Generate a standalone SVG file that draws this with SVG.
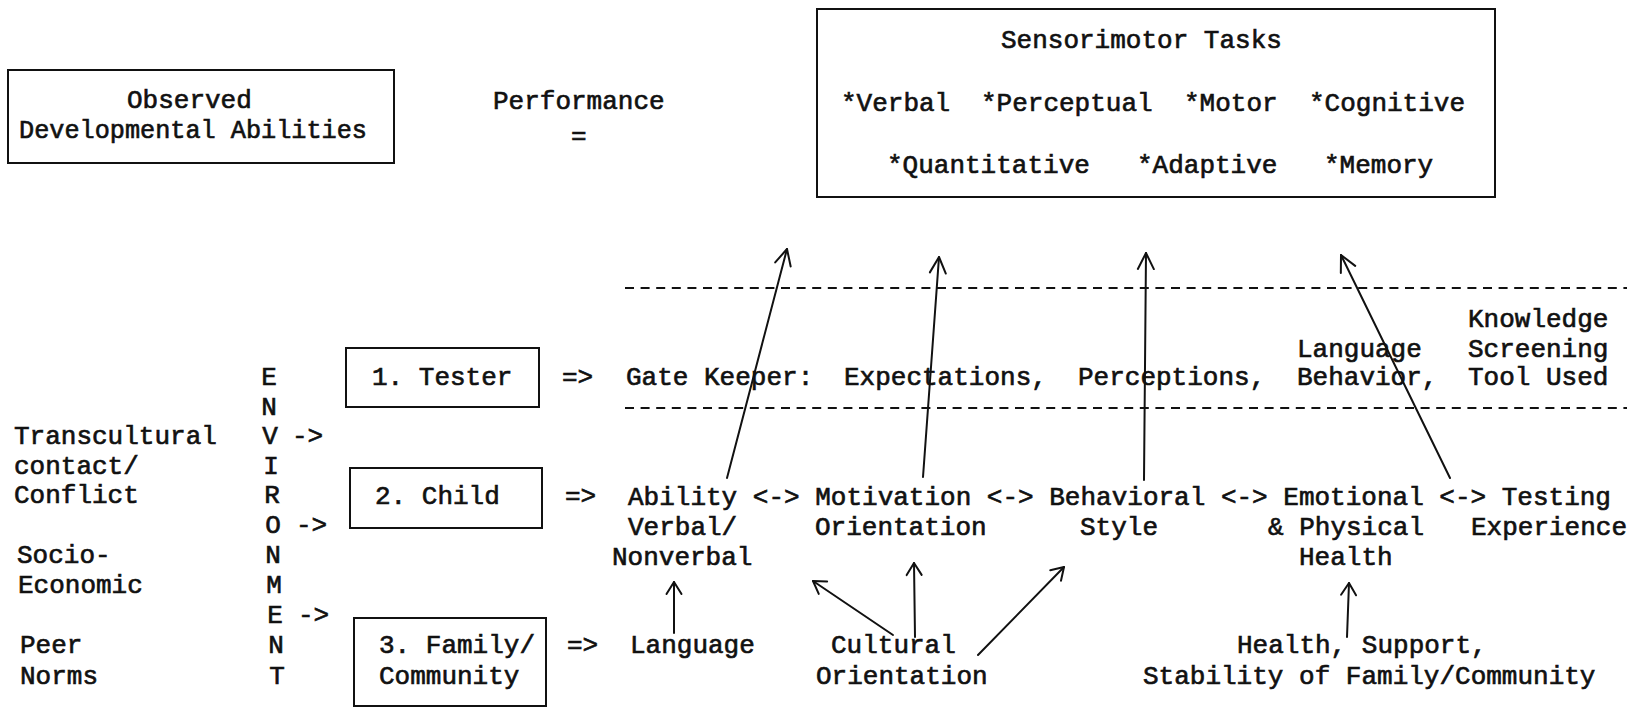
<svg xmlns="http://www.w3.org/2000/svg" width="1627" height="708" viewBox="0 0 1627 708">
  <defs>
    <style>
      text { font-family: "Liberation Mono", "DejaVu Sans Mono", monospace; font-size: 26px; fill: #111; stroke: #111; stroke-width: 0.65px; }
      .mid { text-anchor: middle; }
      .box { fill: none; stroke: #111; stroke-width: 2; }
      .arrow { fill: none; stroke: #111; stroke-width: 2; stroke-linecap: round; }
      .dash { fill: none; stroke: #111; stroke-width: 2; stroke-dasharray: 9 6.6; }
    </style>
    <marker id="headL" markerUnits="userSpaceOnUse" markerWidth="22" markerHeight="22" viewBox="-19 -11 22 22" refX="0" refY="0" orient="auto" overflow="visible">
      <path d="M -16 -8 L 0 0 L -16 8" fill="none" stroke="#111" stroke-width="2" stroke-linecap="round" stroke-linejoin="round"/>
    </marker>
    <marker id="headS" markerUnits="userSpaceOnUse" markerWidth="20" markerHeight="20" viewBox="-16 -10 20 20" refX="0" refY="0" orient="auto" overflow="visible">
      <path d="M -12 -7.5 L 0 0 L -12 7.5" fill="none" stroke="#111" stroke-width="2" stroke-linecap="round" stroke-linejoin="round"/>
    </marker>
  </defs>

  <rect x="0" y="0" width="1627" height="708" fill="#fff"/>

  <!-- top row -->
  <g id="observed-abilities">
    <rect class="box" x="8" y="70" width="386" height="93"/>
    <text x="127" y="108">Observed</text>
    <text x="19" y="138" textLength="348" lengthAdjust="spacingAndGlyphs">Developmental Abilities</text>
  </g>

  <g id="performance">
    <text x="493" y="109">Performance</text>
    <text x="571" y="144">=</text>
  </g>

  <g id="sensorimotor-tasks">
    <rect class="box" x="817" y="9" width="678" height="188"/>
    <text x="1001" y="48">Sensorimotor Tasks</text>
    <text x="841" y="111">*Verbal</text>
    <text x="981" y="111">*Perceptual</text>
    <text x="1184" y="111">*Motor</text>
    <text x="1309" y="111">*Cognitive</text>
    <text x="887" y="173">*Quantitative</text>
    <text x="1137" y="173">*Adaptive</text>
    <text x="1324" y="173">*Memory</text>
  </g>

  <!-- environment column -->
  <g id="environment">
    <text class="mid" x="269" y="385">E</text>
    <text class="mid" x="269" y="415">N</text>
    <text class="mid" x="270" y="444">V</text>
    <text class="mid" x="271" y="474">I</text>
    <text class="mid" x="272" y="503">R</text>
    <text class="mid" x="273" y="533">O</text>
    <text class="mid" x="273" y="563">N</text>
    <text class="mid" x="274" y="593">M</text>
    <text class="mid" x="275" y="623">E</text>
    <text class="mid" x="276" y="653">N</text>
    <text class="mid" x="277" y="684">T</text>
    <text x="292" y="444">-&gt;</text>
    <text x="296" y="533">-&gt;</text>
    <text x="298" y="623">-&gt;</text>
  </g>

  <g id="environment-factors">
    <text x="14" y="444">Transcultural</text>
    <text x="14" y="474">contact/</text>
    <text x="14" y="503">Conflict</text>
    <text x="17" y="563">Socio-</text>
    <text x="18" y="593">Economic</text>
    <text x="20" y="653">Peer</text>
    <text x="20" y="684">Norms</text>
  </g>

  <!-- the three sources -->
  <g id="tester">
    <rect class="box" x="346" y="348" width="193" height="59"/>
    <text x="372" y="385">1. Tester</text>
    <text x="562" y="385">=&gt;</text>
  </g>

  <g id="child">
    <rect class="box" x="350" y="468" width="192" height="60"/>
    <text x="375" y="504">2. Child</text>
    <text x="565" y="504">=&gt;</text>
  </g>

  <g id="family-community">
    <rect class="box" x="354" y="618" width="192" height="88"/>
    <text x="379" y="653">3. Family/</text>
    <text x="379" y="684">Community</text>
    <text x="567" y="653">=&gt;</text>
  </g>

  <!-- gate keeper band -->
  <g id="gate-keeper">
    <line class="dash" x1="625" y1="288" x2="1627" y2="288"/>
    <line class="dash" x1="625" y1="408" x2="1627" y2="408"/>
    <text x="626" y="385">Gate Keeper:</text>
    <text x="844" y="385">Expectations,</text>
    <text x="1078" y="385">Perceptions,</text>
    <text x="1297" y="357">Language</text>
    <text x="1297" y="385">Behavior,</text>
    <text x="1468" y="327">Knowledge</text>
    <text x="1468" y="357">Screening</text>
    <text x="1468" y="385">Tool Used</text>
  </g>

  <!-- child characteristics -->
  <g id="child-factors">
    <text x="628" y="505">Ability &lt;-&gt; Motivation &lt;-&gt; Behavioral &lt;-&gt; Emotional &lt;-&gt; Testing</text>
    <text x="628" y="535">Verbal/</text>
    <text x="612" y="565">Nonverbal</text>
    <text x="815" y="535">Orientation</text>
    <text x="1080" y="535">Style</text>
    <text x="1268" y="535">&amp; Physical</text>
    <text x="1299" y="565">Health</text>
    <text x="1471" y="535">Experience</text>
  </g>

  <!-- family / community characteristics -->
  <g id="family-factors">
    <text x="630" y="653">Language</text>
    <text x="831" y="653">Cultural</text>
    <text x="816" y="684">Orientation</text>
    <text x="1237" y="653">Health, Support,</text>
    <text x="1143" y="684">Stability of Family/Community</text>
  </g>

  <!-- connectors -->
  <g id="connectors">
    <line class="arrow" x1="727" y1="478" x2="787" y2="249" marker-end="url(#headL)"/>
    <line class="arrow" x1="923" y1="477" x2="939" y2="257" marker-end="url(#headL)"/>
    <line class="arrow" x1="1144" y1="480" x2="1146" y2="253" marker-end="url(#headL)"/>
    <line class="arrow" x1="1450" y1="478" x2="1341" y2="255" marker-end="url(#headL)"/>
    <line class="arrow" x1="674" y1="633" x2="674" y2="582" marker-end="url(#headS)"/>
    <line class="arrow" x1="893" y1="635" x2="813" y2="581" marker-end="url(#headS)"/>
    <line class="arrow" x1="915" y1="637" x2="914" y2="563" marker-end="url(#headS)"/>
    <line class="arrow" x1="978" y1="655" x2="1064" y2="567" marker-end="url(#headS)"/>
    <line class="arrow" x1="1347" y1="637" x2="1349" y2="583" marker-end="url(#headS)"/>
  </g>
</svg>
